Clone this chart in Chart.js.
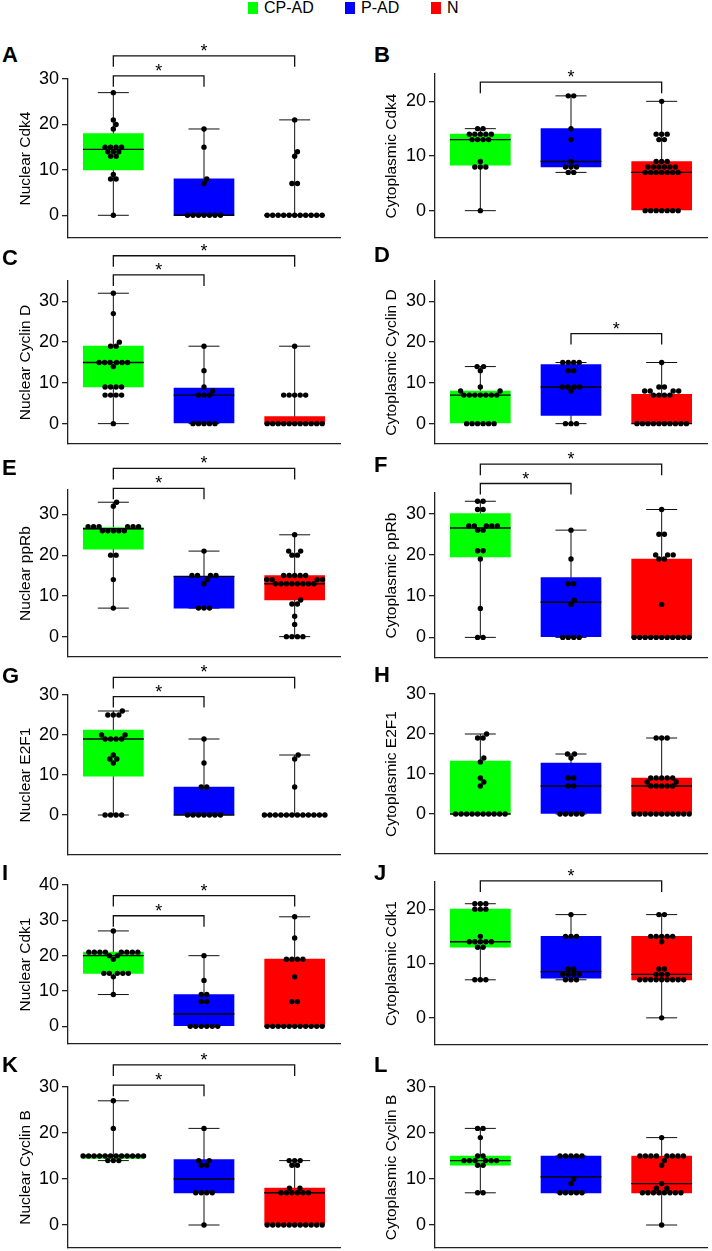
<!DOCTYPE html>
<html>
<head>
<meta charset="utf-8">
<script src="https://cdn.jsdelivr.net/npm/chart.js@4.4.1/dist/chart.umd.min.js"></script>
<style>
  html, body { margin: 0; padding: 0; background: #fff; overflow: hidden; }
  body { width: 712px; height: 1251px; position: relative; font-family: Arial, "Liberation Sans", sans-serif; }
  canvas { position: absolute; }
  .lab { position: absolute; font-weight: bold; font-size: 22px; line-height: 22px; color: #000; }
  .key { position: absolute; top: 2px; width: 10px; height: 12px; }
  .keytxt { position: absolute; top: 0; font-size: 16px; line-height: 16px; color: #000; }
</style>
</head>
<body>
<div class="key" style="left:248px;background:#00ff00"></div><div class="keytxt" style="left:264px">CP-AD</div>
<div class="key" style="left:345px;background:#0000ff"></div><div class="keytxt" style="left:361px">P-AD</div>
<div class="key" style="left:431px;background:#ff0000"></div><div class="keytxt" style="left:447px">N</div>
<script>
const groups = ['CP-AD', 'P-AD', 'N'];
const colors = ['#00ff00', '#0000ff', '#ff0000'];
const ticks20 = [0, 10, 20];
const ticks30 = [0, 10, 20, 30];
const ticks40 = [0, 10, 20, 30, 40];

// box stats per group: [min, q1, median, q3, max]
// sig: [group a, group b, height of bracket in axis units]
const boxA = [[0, 10, 14.5, 18, 27], [0, 0, 0, 8, 19], [0, 0, 0, 0, 21]];
const dotsA = [
  [27, 21, 20, 19, 15, 15, 15, 15, 14, 14, 14, 13, 13, 9, 8, 8, 0],
  [19, 15, 8, 7, 0, 0, 0, 0, 0, 0, 0],
  [21, 14, 13, 7, 7, 0, 0, 0, 0, 0, 0, 0, 0, 0, 0, 0]];
const sigA = [[1, 3, 35.1], [1, 2, 30.7]];

const boxB = [[0, 8.3, 13, 14, 15], [7, 8, 9, 15, 21], [0, 0, 7, 9, 20]];
const dotsB = [
  [15, 15, 14, 14, 14, 14, 14, 13, 13, 13, 13, 9, 8, 8, 8, 0],
  [21, 21, 15, 13, 9, 8, 8, 8, 7, 7],
  [20, 14, 14, 14, 13, 13, 9, 9, 9, 8, 8, 8, 8, 8, 8, 7, 7, 7, 7, 7, 7, 7, 0, 0, 0, 0, 0, 0, 0]];
const sigB = [[1, 3, 23.5]];

const boxC = [[0, 9, 15, 19, 32], [0, 0, 7, 8.7, 19], [0, 0, 0, 1.7, 19]];
const dotsC = [
  [32, 27, 20, 19, 19, 15, 15, 15, 15, 15, 15, 14, 9, 9, 9, 9, 7, 7, 7, 7, 0],
  [19, 13, 9, 8, 7, 7, 7, 0, 0, 0, 0, 0],
  [19, 7, 7, 7, 7, 7, 0, 0, 0, 0, 0, 0, 0, 0, 0, 0, 0]];
const sigC = [[1, 3, 41.2], [1, 2, 36.5]];

const boxD = [[0, 0, 7, 8, 14], [0, 2, 9, 14.5, 15], [0, 0, 0, 7.2, 15]];
const dotsD = [
  [14, 14, 13, 9, 8, 8, 7, 7, 7, 7, 7, 7, 7, 0, 0, 0, 0, 0, 0],
  [15, 15, 15, 15, 13, 13, 9, 9, 9, 9, 8, 0, 0, 0],
  [15, 9, 9, 8, 8, 8, 8, 7, 7, 7, 7, 0, 0, 0, 0, 0, 0, 0, 0, 0, 0]];
const sigD = [[2, 3, 22.1]];

const boxE = [[7, 21.5, 26.5, 26.8, 33], [7, 7, 14.8, 14.8, 21], [0, 9, 13, 15, 25]];
const dotsE = [
  [33, 32, 27, 27, 27, 27, 27, 27, 26, 26, 26, 26, 26, 20, 20, 14, 7],
  [21, 15, 15, 15, 15, 14, 13, 7, 7, 7],
  [25, 21, 21, 20, 20, 15, 15, 15, 15, 15, 14, 14, 14, 14, 13, 13, 13, 13, 13, 13, 13, 13, 9, 8, 8, 5, 3, 0, 0, 0, 0]];
const sigE = [[1, 3, 41.3], [1, 2, 36.4]];

const boxF = [[0, 19.5, 26.5, 30, 33], [0, 0, 8.5, 14.5, 26], [0, 0, 0, 19, 31]];
const dotsF = [
  [33, 33, 31, 31, 27, 27, 27, 27, 27, 26, 26, 21, 21, 19, 7, 0, 0],
  [26, 19, 13, 13, 9, 8, 0, 0, 0, 0],
  [31, 25, 25, 20, 20, 20, 19, 19, 8, 0, 0, 0, 0, 0, 0, 0, 0, 0, 0, 0]];
const sigF = [[1, 3, 42], [1, 2, 37.3]];

const boxG = [[0, 9.7, 19, 21.2, 26], [0, 0, 0, 7, 19], [0, 0, 0, 0, 15]];
const dotsG = [
  [26, 25, 25, 25, 20, 20, 19, 19, 19, 19, 15, 14, 14, 13, 0, 0, 0, 0],
  [19, 13, 7, 7, 0, 0, 0, 0, 0, 0, 0],
  [15, 14, 7, 0, 0, 0, 0, 0, 0, 0, 0, 0, 0, 0, 0]];
const sigG = [[1, 3, 34.4], [1, 2, 29.6]];

const boxH = [[0, 0, 0, 13.2, 20], [0, 0, 7, 12.7, 15], [0, 0, 7, 9, 19]];
const dotsH = [
  [20, 19, 19, 14, 13, 9, 8, 7, 0, 0, 0, 0, 0, 0, 0, 0, 0, 0],
  [15, 15, 14, 9, 9, 7, 7, 0, 0, 0, 0, 0],
  [19, 19, 19, 9, 9, 9, 9, 9, 8, 8, 7, 7, 7, 7, 7, 0, 0, 0, 0, 0, 0, 0, 0, 0, 0, 0]];
const sigH = [];

const boxI = [[9, 15, 20, 21, 27], [0, 0, 3.5, 9, 20], [0, 0, 0, 19, 31]];
const dotsI = [
  [27, 21, 21, 21, 21, 21, 21, 21, 21, 20, 20, 19, 15, 15, 15, 15, 15, 14, 9],
  [20, 13, 9, 9, 7, 7, 0, 0, 0, 0, 0, 0],
  [31, 25, 19, 19, 19, 19, 14, 7, 7, 0, 0, 0, 0, 0, 0, 0, 0, 0, 0, 0]];
const sigI = [[1, 3, 37], [1, 2, 31.3]];

const boxJ = [[7, 13, 14, 20, 21], [7, 7.3, 8.5, 15, 19], [0, 7, 8, 15, 19]];
const dotsJ = [
  [21, 21, 21, 20, 20, 20, 15, 14, 14, 14, 14, 14, 13, 13, 7, 7, 7],
  [19, 15, 15, 15, 9, 9, 8, 8, 8, 8, 7, 7, 7],
  [19, 19, 15, 15, 15, 15, 15, 14, 9, 9, 8, 8, 8, 7, 7, 7, 7, 7, 7, 7, 7, 7, 0]];
const sigJ = [[1, 3, 25.2]];

const boxK = [[14, 14.5, 15, 15.2, 27], [0, 7, 10, 14.2, 21], [0, 0, 7, 8, 14]];
const dotsK = [
  [27, 21, 15, 15, 15, 15, 15, 15, 15, 15, 15, 15, 15, 15, 14, 14, 14],
  [21, 14, 14, 13, 13, 7, 7, 7, 7, 0],
  [14, 14, 14, 13, 13, 8, 8, 7, 7, 7, 7, 7, 7, 0, 0, 0, 0, 0, 0, 0, 0, 0, 0, 0]];
const sigK = [[1, 3, 34.8], [1, 2, 30.4]];

const boxL = [[7, 13, 14, 15, 21], [7, 7, 10.5, 15, 15], [0, 7, 9, 15, 19]];
const dotsL = [
  [21, 21, 19, 15, 15, 14, 14, 14, 14, 14, 14, 13, 13, 7, 7],
  [15, 15, 15, 15, 15, 10, 9, 7, 7, 7, 7, 7],
  [19, 15, 15, 15, 15, 15, 15, 15, 15, 14, 13, 9, 8, 8, 7, 7, 7, 7, 7, 7, 7, 7, 0]];
const sigL = [];

const panels = [
  { key: 'A', title: 'Nuclear Cdk4', box: boxA, dots: dotsA, sig: sigA, min: -5, max: 30, ticks: ticks30 },
  { key: 'B', title: 'Cytoplasmic Cdk4', box: boxB, dots: dotsB, sig: sigB, min: -5, max: 25, ticks: ticks20 },
  { key: 'C', title: 'Nuclear Cyclin D', box: boxC, dots: dotsC, sig: sigC, min: -5, max: 35, ticks: ticks30 },
  { key: 'D', title: 'Cytoplasmic Cyclin D', box: boxD, dots: dotsD, sig: sigD, min: -5, max: 35, ticks: ticks30 },
  { key: 'E', title: 'Nuclear ppRb', box: boxE, dots: dotsE, sig: sigE, min: -5, max: 36, ticks: ticks30 },
  { key: 'F', title: 'Cytoplasmic ppRb', box: boxF, dots: dotsF, sig: sigF, min: -5, max: 35, ticks: ticks30 },
  { key: 'G', title: 'Nuclear E2F1', box: boxG, dots: dotsG, sig: sigG, min: -10, max: 30, ticks: ticks30 },
  { key: 'H', title: 'Cytoplasmic E2F1', box: boxH, dots: dotsH, sig: sigH, min: -10, max: 30, ticks: ticks30 },
  { key: 'I', title: 'Nuclear Cdk1', box: boxI, dots: dotsI, sig: sigI, min: -5, max: 40, ticks: ticks40 },
  { key: 'J', title: 'Cytoplasmic Cdk1', box: boxJ, dots: dotsJ, sig: sigJ, min: -5, max: 25, ticks: ticks20 },
  { key: 'K', title: 'Nuclear Cyclin B', box: boxK, dots: dotsK, sig: sigK, min: -5, max: 30, ticks: ticks30 },
  { key: 'L', title: 'Cytoplasmic Cyclin B', box: boxL, dots: dotsL, sig: sigL, min: -5, max: 30, ticks: ticks30 }
];

// page layout: column, pixel row of axis top, pixel row of x axis, top of panel letter
const frames = [
  [0, 79, 238, 47], [1, 74, 238, 47],
  [0, 281, 443.5, 250], [1, 281, 443.5, 247],
  [0, 490, 657, 460], [1, 493, 657.5, 457],
  [0, 695, 855, 668], [1, 694, 854, 667],
  [0, 885, 1044, 865], [1, 882, 1045, 865],
  [0, 1087, 1248, 1057], [1, 1087, 1248, 1057]
];

const FONT = 'Arial, "Liberation Sans", sans-serif';
const AXIS_LEN = 272, HEAD = 60, FOOT = 15;
const DOT_R = 2.7, DOT_STEP = 5.5, DOT_MIN = 5.2;

// spread equal / close values sideways like a dot plot
function swarm(values, pxX, pxY) {
  const counts = new Map();
  values.forEach(v => counts.set(v, (counts.get(v) || 0) + 1));
  const keys = [...counts.keys()].sort((a, b) => a - b);
  const placed = [];
  const out = [];
  for (const v of keys) {
    const n = counts.get(v), py = v * pxY;
    const fits = xs => xs.every(x => placed.every(p => Math.hypot(p.x - x, p.y - py) >= DOT_MIN));
    let xs = Array.from({ length: n }, (_, i) => (i - (n - 1) / 2) * DOT_STEP);
    if (!fits(xs)) {
      for (let a = 0; a < 300; a += 0.25) {
        xs = [];
        for (let i = 0; i < n; i++) {
          const side = i % 2 ? -1 : 1;
          xs.push(side * (a + DOT_STEP / 2 + Math.floor(i / 2) * DOT_STEP));
        }
        if (fits(xs)) break;
      }
    }
    xs.forEach(x => { placed.push({ x, y: py }); out.push({ off: x / pxX, v }); });
  }
  return out;
}

const bracketPlugin = {
  id: 'brackets',
  afterDatasetsDraw(chart, args, opts) {
    const { ctx } = chart;
    const x = chart.scales.x, y = chart.scales.y;
    ctx.save();
    ctx.strokeStyle = '#111';
    ctx.lineWidth = 1.3;
    ctx.fillStyle = '#000';
    ctx.font = '18px ' + FONT;
    ctx.textAlign = 'center';
    ctx.textBaseline = 'alphabetic';
    for (const [a, b, v] of opts.sig || []) {
      const x1 = x.getPixelForValue(a), x2 = x.getPixelForValue(b), yy = y.getPixelForValue(v);
      ctx.beginPath();
      ctx.moveTo(x1, yy + 11);
      ctx.lineTo(x1, yy);
      ctx.lineTo(x2, yy);
      ctx.lineTo(x2, yy + 11);
      ctx.stroke();
      ctx.fillText('*', (x1 + x2) / 2, yy + 1);
    }
    ctx.restore();
  }
};

panels.forEach((p, idx) => {
  const [col, yTop, yBot, capTop] = frames[idx];
  const left = col ? 356 : 0;
  const axisX = col ? 79 : 68;
  const padRight = 356 - axisX - AXIS_LEN;
  const top = yTop - HEAD;
  const height = Math.round(yBot - top + FOOT);

  const lab = document.createElement('div');
  lab.className = 'lab';
  lab.textContent = p.key;
  lab.style.left = (left + (col ? 18 : 2)) + 'px';
  lab.style.top = (capTop - 3) + 'px';
  document.body.appendChild(lab);

  const cv = document.createElement('canvas');
  cv.width = 356;
  cv.height = height;
  cv.style.left = left + 'px';
  cv.style.top = top + 'px';
  document.body.appendChild(cv);

  const pxX = AXIS_LEN / 3;
  const pxY = (yBot - yTop) / (p.max - p.min);

  const dotData = [], medData = [], whiskData = [], boxData = [];
  p.box.forEach(([mn, q1, md, q3, mx], g) => {
    const c = g + 1;
    boxData.push({ x: c, y: [q1, q3] });
    medData.push({ x: c - 0.335, y: md }, { x: c + 0.335, y: md }, { x: c + 0.4, y: null });
    whiskData.push(
      { x: c, y: mn }, { x: c, y: mx }, { x: c + 0.01, y: null },
      { x: c - 0.171, y: mn }, { x: c + 0.171, y: mn }, { x: c + 0.2, y: null },
      { x: c - 0.171, y: mx }, { x: c + 0.171, y: mx }, { x: c + 0.2, y: null });
  });
  p.dots.forEach((vals, g) => {
    swarm(vals, pxX, pxY).forEach(d => dotData.push({ x: g + 1 + d.off, y: d.v }));
  });

  new Chart(cv, {
    type: 'bar',
    data: {
      datasets: [
        { type: 'scatter', data: dotData, pointRadius: DOT_R, pointBackgroundColor: '#000', pointBorderWidth: 0, order: 0 },
        { type: 'line', data: medData, borderColor: '#000', borderWidth: 1.4, pointRadius: 0, spanGaps: false, tension: 0, order: 1 },
        { type: 'bar', data: boxData, backgroundColor: colors, borderWidth: 0, barThickness: 60, grouped: false, order: 2 },
        { type: 'line', data: whiskData, borderColor: '#111', borderWidth: 1, pointRadius: 0, spanGaps: false, tension: 0, order: 3 }
      ]
    },
    options: {
      responsive: false,
      animation: false,
      devicePixelRatio: 1,
      layout: { padding: { top: HEAD, bottom: FOOT, left: 0, right: padRight } },
      plugins: { legend: { display: false }, tooltip: { enabled: false }, brackets: { sig: p.sig } },
      scales: {
        x: {
          type: 'linear', min: 0.5, max: 3.5, offset: false,
          ticks: { display: false },
          grid: { display: false },
          border: { display: true, color: '#222', width: 1.3 },
          afterFit: s => { s.height = 0; }
        },
        y: {
          type: 'linear', min: p.min, max: p.max,
          afterBuildTicks: s => { s.ticks = p.ticks.map(v => ({ value: v })); },
          ticks: { color: '#000', font: { size: 18, family: FONT }, padding: 3 },
          grid: { display: true, drawOnChartArea: false, drawTicks: true, tickLength: 6, color: '#222', lineWidth: 1.3 },
          border: { display: true, color: '#222', width: 1.3 },
          title: { display: true, text: p.title, color: '#000', font: { size: 15.5, family: FONT }, padding: { top: col ? 26.7 : 16.7, bottom: 0 } },
          afterFit: s => { s.width = axisX; }
        }
      }
    },
    plugins: [bracketPlugin]
  });
});
</script>
</body>
</html>
